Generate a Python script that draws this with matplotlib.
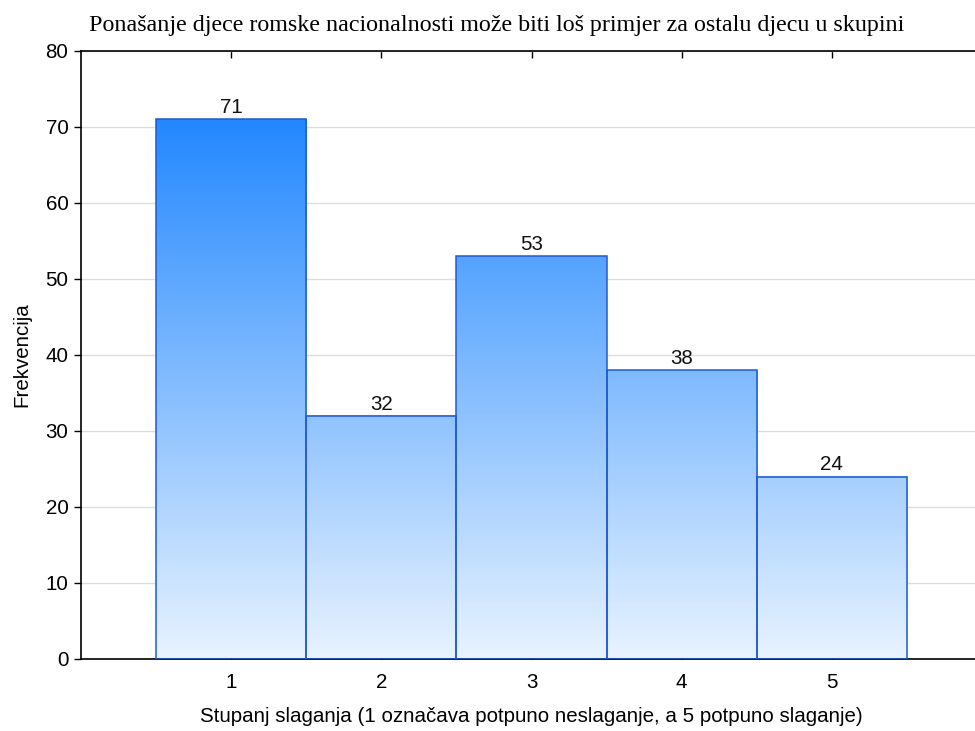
import numpy as np
import matplotlib
matplotlib.use("Agg")
import matplotlib.pyplot as plt
from matplotlib.colors import LinearSegmentedColormap

categories = [1, 2, 3, 4, 5]
counts = [71, 32, 53, 38, 24]
yticks = [0, 10, 20, 30, 40, 50, 60, 70, 80]
title = "Ponašanje djece romske nacionalnosti može biti loš primjer za ostalu djecu u skupini"
xlabel = "Stupanj slaganja (1 označava potpuno neslaganje, a 5 potpuno slaganje)"
ylabel = "Frekvencija"

plt.rcParams['font.family'] = ['Liberation Sans', 'DejaVu Sans']

W, H = 975, 731
fig = plt.figure(figsize=(W / 100, H / 100), dpi=100)
ax = fig.add_axes([81 / W, 72 / H, (982 - 81) / W, (659 - 51) / H])

ymin, ymax = 0, 80
cmap = LinearSegmentedColormap.from_list("grad", ["#E8F3FE", "#0A7AFF"])
grad = np.linspace(0, 1, 256).reshape(-1, 1)

FS = 14.8
for c, v in zip(categories, counts):
    x0, x1 = c - 0.5, c + 0.5
    ax.imshow(grad[: int(round(256 * v / ymax))] if v < ymax else grad,
              extent=[x0, x1, 0, v], origin='lower', aspect='auto',
              cmap=cmap, vmin=0, vmax=1, zorder=2, interpolation='bilinear')
    ax.bar(c, v, width=1.0, facecolor='none', edgecolor='#1F5BD0',
           linewidth=1.1, zorder=3)
    ax.text(c, v + 0.3, str(v), ha='center', va='bottom', fontsize=FS,
            color='#111111', zorder=4)

ax.set_xlim(0, 6)
ax.set_ylim(ymin, ymax)
ax.set_yticks(yticks)
ax.set_xticks(categories)
ax.yaxis.grid(True, color='#DDDDDD', linewidth=1.0, zorder=0)
ax.set_axisbelow(True)
ax.tick_params(axis='x', direction='in', top=True, bottom=True, length=5,
               labelsize=FS, pad=10, width=1)
ax.tick_params(axis='y', direction='out', left=True, right=False, length=5,
               labelsize=FS, pad=4, width=1)
ax.spines['right'].set_visible(False)
for s in ['left', 'bottom', 'top']:
    ax.spines[s].set_linewidth(1.2)
    ax.spines[s].set_color('black')

fig.text(531 / W, (H - 717) / H, xlabel, ha='center', va='center', fontsize=FS)
fig.text(22 / W, (H - 355) / H, ylabel, rotation=90, ha='center', va='center',
         fontsize=FS)
fig.text(497 / W, (H - 25) / H, title, ha='center', va='center',
         fontsize=17.3, family=['Liberation Serif', 'DejaVu Serif'])

fig.savefig("out.png", dpi=100)
